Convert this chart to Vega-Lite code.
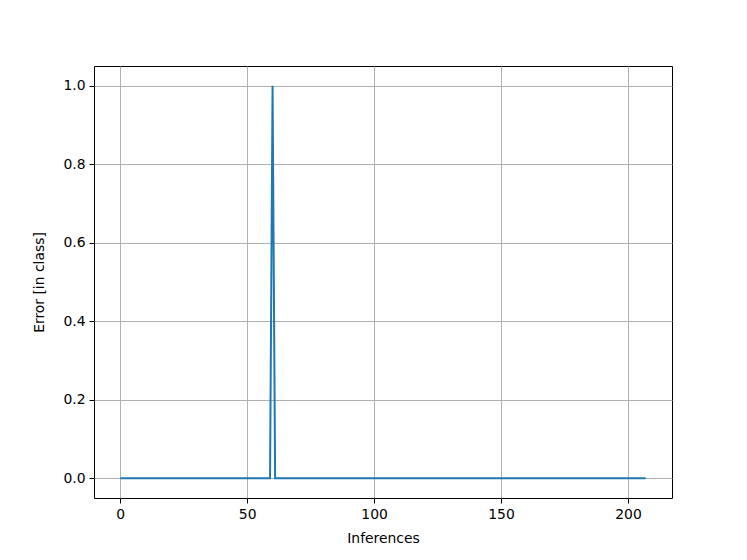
{
  "$schema": "https://vega.github.io/schema/vega-lite/v6.json",
  "width": 578,
  "height": 432,
  "autosize": {"type": "none"},
  "padding": {"left": 94, "top": 66, "right": 75, "bottom": 62},
  "background": "white",
  "config": {
    "font": "DejaVu Sans",
    "view": {"stroke": "black", "strokeWidth": 1},
    "axis": {
      "labelFont": "DejaVu Sans",
      "titleFont": "DejaVu Sans",
      "labelFontSize": 13.9,
      "titleFontSize": 13.9,
      "titleFontWeight": "normal",
      "labelColor": "black",
      "titleColor": "black",
      "tickColor": "black",
      "tickSize": 5,
      "tickWidth": 1,
      "labelPadding": 4,
      "domain": false,
      "grid": true,
      "gridColor": "#b0b0b0",
      "gridWidth": 1
    }
  },
  "data": {
    "values": [
      {"i":0,"e":0},{"i":1,"e":0},{"i":2,"e":0},{"i":3,"e":0},{"i":4,"e":0},{"i":5,"e":0},{"i":6,"e":0},{"i":7,"e":0},{"i":8,"e":0},{"i":9,"e":0},
      {"i":10,"e":0},{"i":11,"e":0},{"i":12,"e":0},{"i":13,"e":0},{"i":14,"e":0},{"i":15,"e":0},{"i":16,"e":0},{"i":17,"e":0},{"i":18,"e":0},{"i":19,"e":0},
      {"i":20,"e":0},{"i":21,"e":0},{"i":22,"e":0},{"i":23,"e":0},{"i":24,"e":0},{"i":25,"e":0},{"i":26,"e":0},{"i":27,"e":0},{"i":28,"e":0},{"i":29,"e":0},
      {"i":30,"e":0},{"i":31,"e":0},{"i":32,"e":0},{"i":33,"e":0},{"i":34,"e":0},{"i":35,"e":0},{"i":36,"e":0},{"i":37,"e":0},{"i":38,"e":0},{"i":39,"e":0},
      {"i":40,"e":0},{"i":41,"e":0},{"i":42,"e":0},{"i":43,"e":0},{"i":44,"e":0},{"i":45,"e":0},{"i":46,"e":0},{"i":47,"e":0},{"i":48,"e":0},{"i":49,"e":0},
      {"i":50,"e":0},{"i":51,"e":0},{"i":52,"e":0},{"i":53,"e":0},{"i":54,"e":0},{"i":55,"e":0},{"i":56,"e":0},{"i":57,"e":0},{"i":58,"e":0},{"i":59,"e":0},
      {"i":60,"e":1},{"i":61,"e":0},{"i":62,"e":0},{"i":63,"e":0},{"i":64,"e":0},{"i":65,"e":0},{"i":66,"e":0},{"i":67,"e":0},{"i":68,"e":0},{"i":69,"e":0},
      {"i":70,"e":0},{"i":71,"e":0},{"i":72,"e":0},{"i":73,"e":0},{"i":74,"e":0},{"i":75,"e":0},{"i":76,"e":0},{"i":77,"e":0},{"i":78,"e":0},{"i":79,"e":0},
      {"i":80,"e":0},{"i":81,"e":0},{"i":82,"e":0},{"i":83,"e":0},{"i":84,"e":0},{"i":85,"e":0},{"i":86,"e":0},{"i":87,"e":0},{"i":88,"e":0},{"i":89,"e":0},
      {"i":90,"e":0},{"i":91,"e":0},{"i":92,"e":0},{"i":93,"e":0},{"i":94,"e":0},{"i":95,"e":0},{"i":96,"e":0},{"i":97,"e":0},{"i":98,"e":0},{"i":99,"e":0},
      {"i":100,"e":0},{"i":101,"e":0},{"i":102,"e":0},{"i":103,"e":0},{"i":104,"e":0},{"i":105,"e":0},{"i":106,"e":0},{"i":107,"e":0},{"i":108,"e":0},{"i":109,"e":0},
      {"i":110,"e":0},{"i":111,"e":0},{"i":112,"e":0},{"i":113,"e":0},{"i":114,"e":0},{"i":115,"e":0},{"i":116,"e":0},{"i":117,"e":0},{"i":118,"e":0},{"i":119,"e":0},
      {"i":120,"e":0},{"i":121,"e":0},{"i":122,"e":0},{"i":123,"e":0},{"i":124,"e":0},{"i":125,"e":0},{"i":126,"e":0},{"i":127,"e":0},{"i":128,"e":0},{"i":129,"e":0},
      {"i":130,"e":0},{"i":131,"e":0},{"i":132,"e":0},{"i":133,"e":0},{"i":134,"e":0},{"i":135,"e":0},{"i":136,"e":0},{"i":137,"e":0},{"i":138,"e":0},{"i":139,"e":0},
      {"i":140,"e":0},{"i":141,"e":0},{"i":142,"e":0},{"i":143,"e":0},{"i":144,"e":0},{"i":145,"e":0},{"i":146,"e":0},{"i":147,"e":0},{"i":148,"e":0},{"i":149,"e":0},
      {"i":150,"e":0},{"i":151,"e":0},{"i":152,"e":0},{"i":153,"e":0},{"i":154,"e":0},{"i":155,"e":0},{"i":156,"e":0},{"i":157,"e":0},{"i":158,"e":0},{"i":159,"e":0},
      {"i":160,"e":0},{"i":161,"e":0},{"i":162,"e":0},{"i":163,"e":0},{"i":164,"e":0},{"i":165,"e":0},{"i":166,"e":0},{"i":167,"e":0},{"i":168,"e":0},{"i":169,"e":0},
      {"i":170,"e":0},{"i":171,"e":0},{"i":172,"e":0},{"i":173,"e":0},{"i":174,"e":0},{"i":175,"e":0},{"i":176,"e":0},{"i":177,"e":0},{"i":178,"e":0},{"i":179,"e":0},
      {"i":180,"e":0},{"i":181,"e":0},{"i":182,"e":0},{"i":183,"e":0},{"i":184,"e":0},{"i":185,"e":0},{"i":186,"e":0},{"i":187,"e":0},{"i":188,"e":0},{"i":189,"e":0},
      {"i":190,"e":0},{"i":191,"e":0},{"i":192,"e":0},{"i":193,"e":0},{"i":194,"e":0},{"i":195,"e":0},{"i":196,"e":0},{"i":197,"e":0},{"i":198,"e":0},{"i":199,"e":0},
      {"i":200,"e":0},{"i":201,"e":0},{"i":202,"e":0},{"i":203,"e":0},{"i":204,"e":0},{"i":205,"e":0},{"i":206,"e":0},{"i":207,"e":0}
    ]
  },
  "mark": {"type": "line", "color": "#1f77b4", "strokeWidth": 2, "clip": true},
  "encoding": {
    "x": {
      "field": "i",
      "type": "quantitative",
      "title": "Inferences",
      "scale": {"domain": [-10.35, 217.35], "nice": false, "zero": false},
      "axis": {"values": [0, 50, 100, 150, 200], "format": "d", "titlePadding": 11}
    },
    "y": {
      "field": "e",
      "type": "quantitative",
      "title": "Error [in class]",
      "scale": {"domain": [-0.05, 1.05], "nice": false, "zero": false},
      "axis": {"values": [0, 0.2, 0.4, 0.6, 0.8, 1.0], "format": ".1f", "titlePadding": 16}
    }
  }
}
